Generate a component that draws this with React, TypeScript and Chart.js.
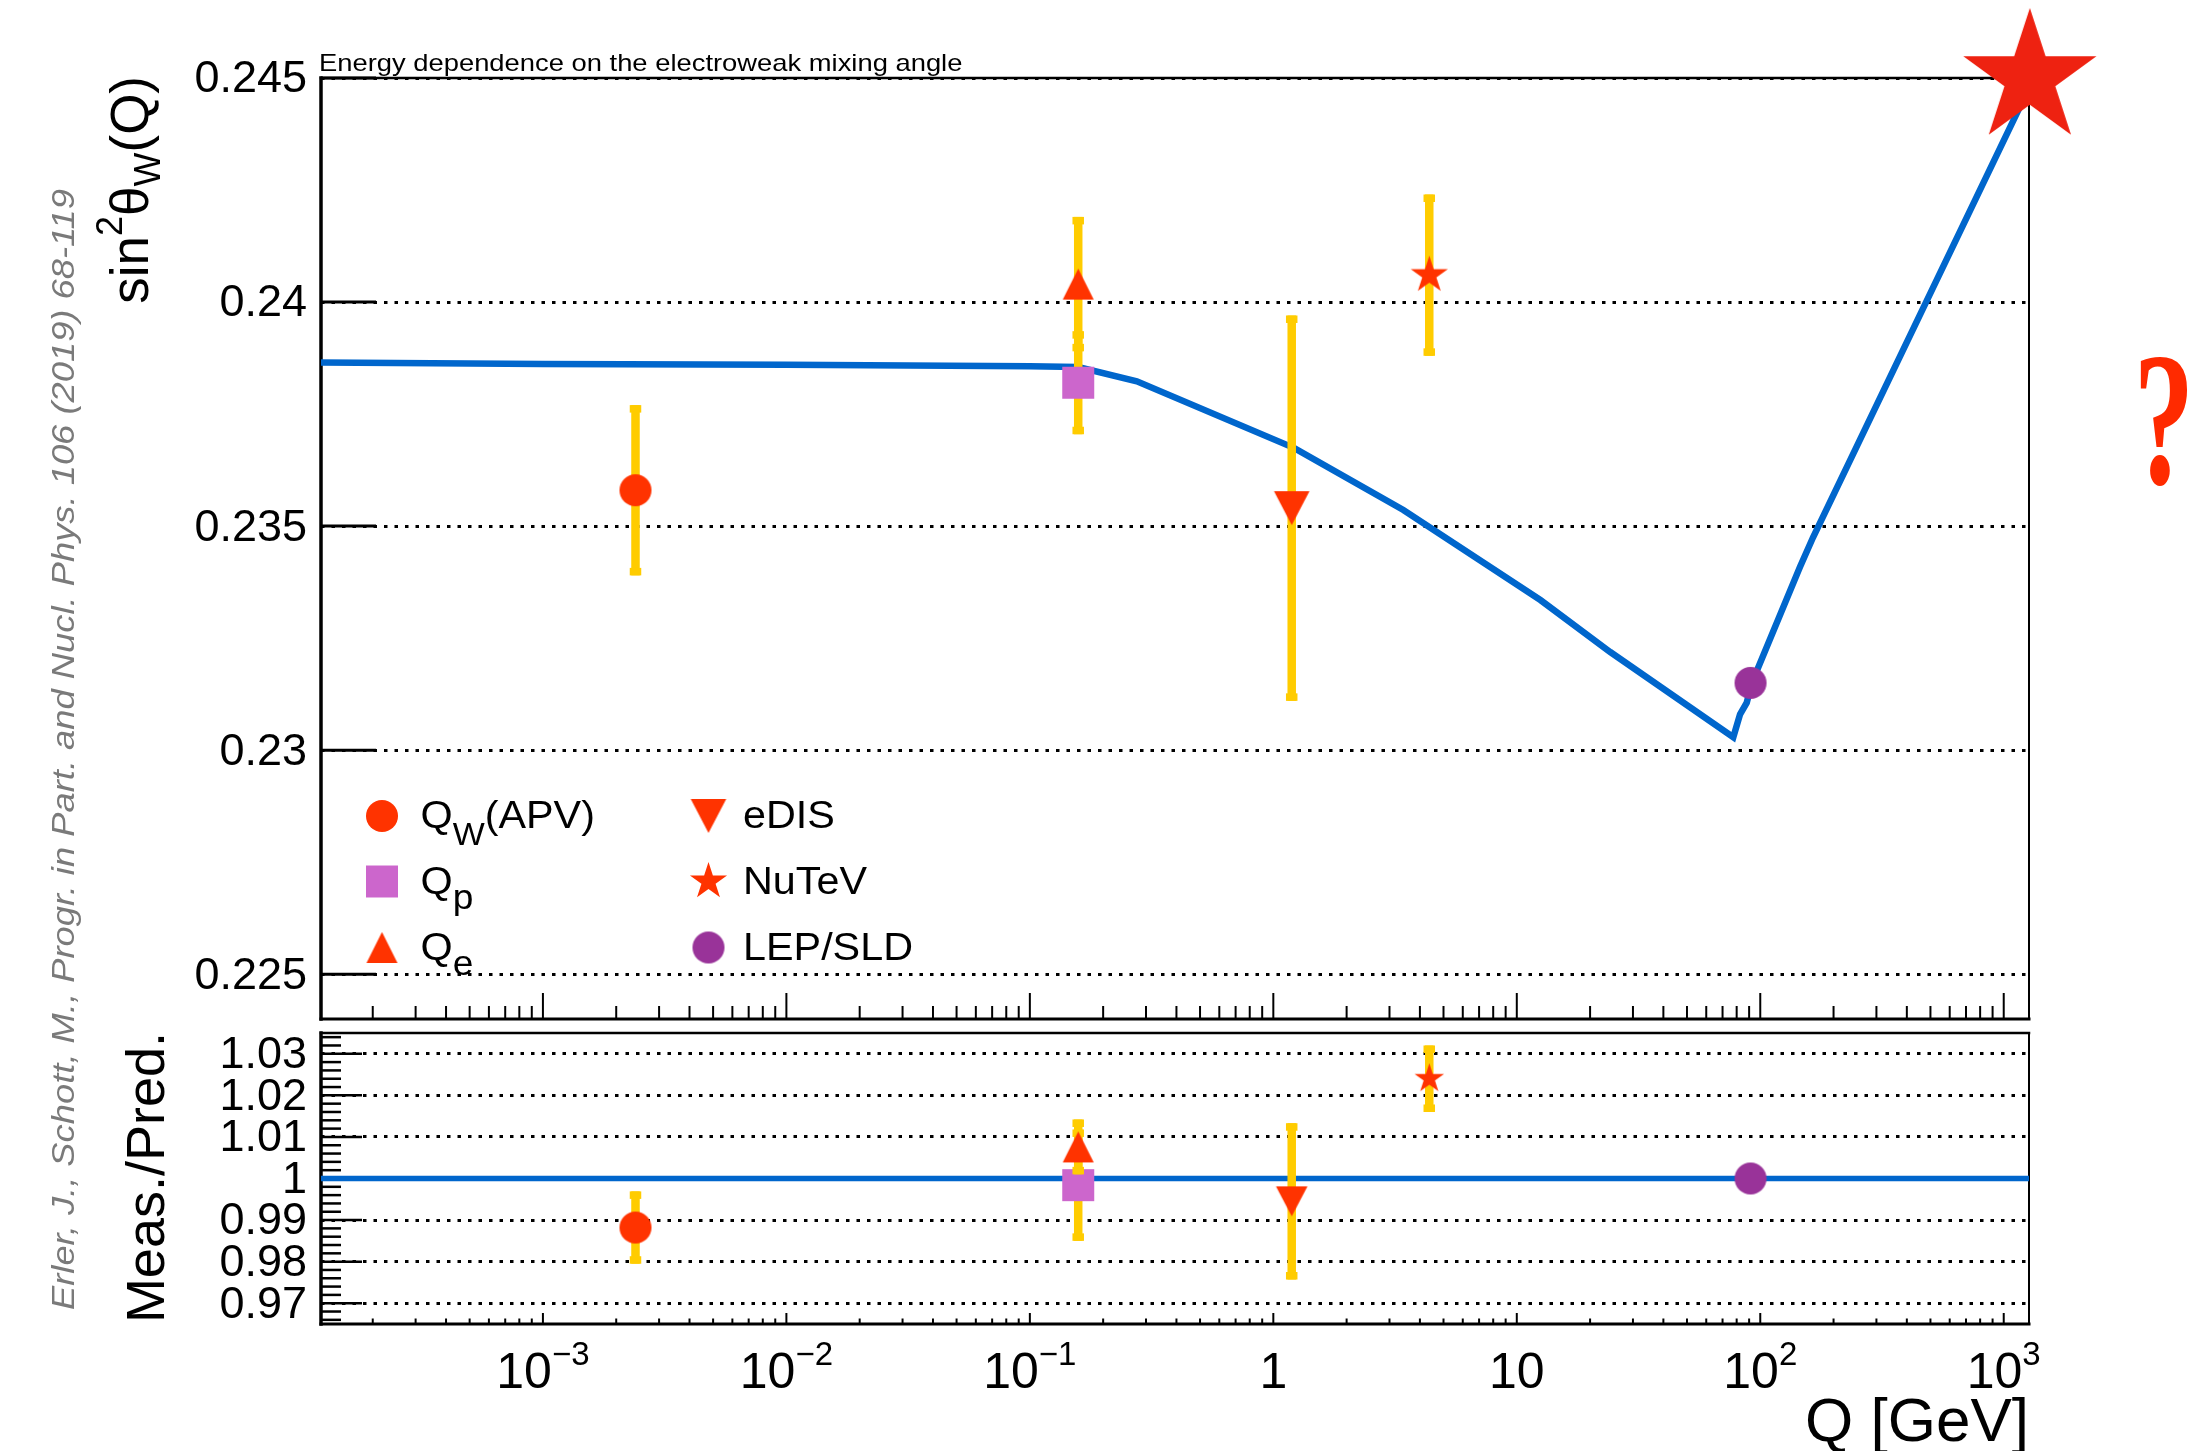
import React, { useEffect, useRef } from 'react';
import { Chart, registerables } from 'chart.js';

Chart.register(...registerables);

const FONT = '"Liberation Sans", Arial, Helvetica, sans-serif';

// ---------------- data ----------------
const X_MIN = 1.226e-4;
const X_MAX = 1270;

// running sin^2(theta_W) prediction (blue curve)
const CURVE_Q = [1.226e-4, 1e-3, 1e-2, 0.1, 0.158, 0.275, 1.22, 3.42, 12.5, 24.2, 77.5, 82.6, 88.0, 92.3, 145.7, 164.8, 1200];
const CURVE_S2W = [0.23865, 0.23862, 0.2386, 0.23857, 0.23855, 0.23823, 0.23674, 0.23536, 0.23335, 0.23219, 0.23029, 0.2308, 0.23106, 0.2315, 0.23409, 0.23475, 0.2445];

// measurements
const EXP_LABELS = ['Q_W(APV)', 'Q_p', 'Q_e', 'eDIS', 'NuTeV', 'LEP/SLD'];
const EXP_Q = [0.0024, 0.158, 0.158, 1.19, 4.37, 91.19];
const EXP_S2W = [0.2358, 0.2382, 0.2404, 0.2354, 0.2406, 0.2315];
const EXP_ERR = [0.0019, 0.00115, 0.0015, 0.0043, 0.0018, 0];

// ratio panel
const RATIO = [0.9882, 0.9984, 1.0076, 0.9945, 1.024, 1.0];
const RATIO_ERR = [0.0087, 0.0134, 0.0066, 0.0188, 0.008, 0];
const RATIO_LINE_Q = [X_MIN, X_MAX];
const RATIO_LINE = [1, 1];

// future (big star)
const FUTURE_Q = [1280];
const FUTURE_S2W = [0.245];

// ticks
const UPPER_Y_TICKS = [0.225, 0.23, 0.235, 0.24, 0.245];
const UPPER_Y_LABELS = ['0.225', '0.23', '0.235', '0.24', '0.245'];
const LOWER_Y_TICKS = [0.97, 0.98, 0.99, 1, 1.01, 1.02, 1.03];
const LOWER_Y_LABELS = ['0.97', '0.98', '0.99', '1', '1.01', '1.02', '1.03'];
const X_DECADES = [-3, -2, -1, 0, 1, 2, 3];
const X_TICK_BASE = ['10', '10', '10', '1', '10', '10', '10'];
const X_TICK_EXP = ['\u22123', '\u22122', '\u22121', '', '', '2', '3'];

const TITLE = 'Energy dependence on the electroweak mixing angle';
const CITATION = 'Erler, J., Schott, M., Progr. in Part. and Nucl. Phys. 106 (2019) 68-119';

// ---------------- layout ----------------
const W = 2197;
const H = 1451;
const LEFT = 321;
const RIGHT = 2029;
const UP_TOP = 78;
const UP_BOTTOM = 1019;
const LO_TOP = 1033;
const LO_BOTTOM = 1324;

const RED = '#ff3300';
const PINK = '#cc66cc';
const PURPLE = '#993399';
const YELLOW = '#ffcc00';
const BLUE = '#0066cc';

type Shape = 'circle' | 'square' | 'triUp' | 'triDown' | 'star';

function makeMarker(shape: Shape, color: string, w: number, h: number): HTMLCanvasElement {
  const c = document.createElement('canvas');
  const cw = Math.ceil(w) + 4;
  const ch = Math.ceil(h) + 4;
  c.width = cw;
  c.height = ch;
  const g = c.getContext('2d') as CanvasRenderingContext2D;
  const cx = cw / 2;
  const cy = ch / 2;
  g.fillStyle = color;
  g.beginPath();
  if (shape === 'circle') {
    g.ellipse(cx, cy, w / 2, h / 2, 0, 0, Math.PI * 2);
  } else if (shape === 'square') {
    g.rect(cx - w / 2, cy - h / 2, w, h);
  } else if (shape === 'triUp') {
    g.moveTo(cx, cy - h / 2);
    g.lineTo(cx + w / 2, cy + h / 2);
    g.lineTo(cx - w / 2, cy + h / 2);
    g.closePath();
  } else if (shape === 'triDown') {
    g.moveTo(cx - w / 2, cy - h / 2);
    g.lineTo(cx + w / 2, cy - h / 2);
    g.lineTo(cx, cy + h / 2);
    g.closePath();
  } else {
    const R = w / 2;
    const r = R * 0.382;
    for (let k = 0; k < 10; k++) {
      const rad = k % 2 === 0 ? R : r;
      const ang = -Math.PI / 2 + (k * Math.PI) / 5;
      const px = cx + rad * Math.cos(ang);
      const py = cy + rad * Math.sin(ang);
      if (k === 0) g.moveTo(px, py);
      else g.lineTo(px, py);
    }
    g.closePath();
  }
  g.fill();
  return c;
}

function seg(ctx: any, x1: number, y1: number, x2: number, y2: number) {
  ctx.beginPath();
  ctx.moveTo(x1, y1);
  ctx.lineTo(x2, y2);
  ctx.stroke();
}

function drawFrame(ctx: any, a: any) {
  ctx.strokeStyle = '#000';
  ctx.lineCap = 'square';
  ctx.lineWidth = 2.5;
  seg(ctx, a.left, a.top, a.right, a.top);
  ctx.lineWidth = 2;
  seg(ctx, a.right, a.top, a.right, a.bottom);
  ctx.lineWidth = 3;
  seg(ctx, a.left, a.bottom, a.right, a.bottom);
  ctx.lineWidth = 3.5;
  seg(ctx, a.left, a.top, a.left, a.bottom);
  ctx.lineCap = 'butt';
}

function drawXTicks(ctx: any, xs: any, yb: number, majorLen: number, minorLen: number) {
  ctx.strokeStyle = '#000';
  ctx.lineWidth = 2;
  for (let e = -4; e <= 3; e++) {
    for (let k = 1; k <= 9; k++) {
      const v = k * Math.pow(10, e);
      if (v < X_MIN || v > X_MAX) continue;
      const px = xs.getPixelForValue(v);
      seg(ctx, px, yb, px, yb - (k === 1 ? majorLen : minorLen));
    }
  }
}

type Seg = { t: string; font: string; dy?: number; w?: number };

function drawRich(ctx: any, segs: Seg[], x: number, y: number, stretch: number, align: string) {
  let total = 0;
  for (const s of segs) {
    ctx.font = s.font;
    s.w = ctx.measureText(s.t).width;
    total += s.w as number;
  }
  ctx.save();
  ctx.translate(x, y);
  ctx.scale(stretch, 1);
  ctx.textAlign = 'left';
  ctx.textBaseline = 'alphabetic';
  let cx = align === 'left' ? 0 : align === 'right' ? -total : -total / 2;
  for (const s of segs) {
    ctx.font = s.font;
    ctx.fillText(s.t, cx, s.dy || 0);
    cx += s.w as number;
  }
  ctx.restore();
  return total * stretch;
}

const f = (size: number, style = '') => `${style} ${size}px ${FONT}`.trim();

// error bars drawn just before each measurement dataset
const errorBarPlugin = {
  id: 'errorBars',
  beforeDatasetDraw(chart: any, args: any) {
    const ds = chart.data.datasets[args.index];
    if (!ds || !ds.data) return;
    const ctx = chart.ctx;
    const xs = chart.scales.x;
    const ys = chart.scales.y;
    ctx.save();
    ctx.fillStyle = YELLOW;
    for (const p of ds.data) {
      if (!p || !p.err) continue;
      const x = xs.getPixelForValue(p.x);
      const y1 = ys.getPixelForValue(p.y + p.err);
      const y2 = ys.getPixelForValue(p.y - p.err);
      ctx.fillRect(x - 4.25, y1, 8.5, y2 - y1);
      ctx.fillRect(x - 5.75, y1, 11.5, 7.5);
      ctx.fillRect(x - 5.75, y2 - 7.5, 11.5, 7.5);
    }
    ctx.restore();
  },
};

function measurementDatasets(ys: number[], errs: number[], markers: HTMLCanvasElement[]) {
  const list = EXP_Q.map((q, i) => ({
    label: EXP_LABELS[i],
    data: [{ x: q, y: ys[i], err: errs[i] }],
    pointStyle: markers[i],
    pointRadius: 20,
    pointHoverRadius: 20,
    showLine: false,
  }));
  return list.reverse(); // first experiment drawn first, last one on top
}

export default function App() {
  const upRef = useRef<HTMLCanvasElement>(null);
  const loRef = useRef<HTMLCanvasElement>(null);

  useEffect(() => {
    const upMarkers = [
      makeMarker('circle', RED, 32, 32),
      makeMarker('square', PINK, 32, 32),
      makeMarker('triUp', RED, 31, 31),
      makeMarker('triDown', RED, 35.5, 34),
      makeMarker('star', RED, 39, 39),
      makeMarker('circle', PURPLE, 32, 32),
    ];
    const loMarkers = [
      makeMarker('circle', RED, 32, 32),
      makeMarker('square', PINK, 32, 32),
      makeMarker('triUp', RED, 31, 31),
      makeMarker('triDown', RED, 31.5, 30),
      makeMarker('star', RED, 31, 31),
      makeMarker('circle', PURPLE, 32, 32),
    ];
    const bigStar = makeMarker('star', '#ee2211', 140, 140);

    const upperDecor = {
      id: 'upperDecor',
      beforeDatasetsDraw(chart: any) {
        const { ctx, chartArea: a, scales } = chart;
        ctx.save();
        ctx.strokeStyle = '#000';
        ctx.lineWidth = 3;
        for (const v of UPPER_Y_TICKS) {
          const py = scales.y.getPixelForValue(v);
          seg(ctx, a.left, py, a.left + 55, py);
        }
        drawXTicks(ctx, scales.x, a.bottom, 26, 13);
        drawFrame(ctx, a);
        ctx.restore();
      },
      afterDraw(chart: any) {
        const { ctx, chartArea: a } = chart;
        ctx.save();
        ctx.fillStyle = '#000';
        // title
        drawRich(ctx, [{ t: TITLE, font: f(24) }], a.left - 2, 71, 1.14, 'left');

        // y-axis title (rotated)
        ctx.save();
        ctx.translate(148, a.top - 2);
        ctx.rotate(-Math.PI / 2);
        drawRich(
          ctx,
          [
            { t: 'sin', font: f(53) },
            { t: '2', font: f(36), dy: -26 },
            { t: '\u03b8', font: f(53) },
            { t: 'W', font: f(36), dy: 12 },
            { t: '(Q)', font: f(53) },
          ],
          0,
          0,
          1,
          'right'
        );
        ctx.restore();

        // legend
        const rowsY = [816, 881.5, 947.5];
        const colMarkX = [382, 708.5];
        const colTextX = [420.5, 743];
        const legendText: Seg[][] = [
          [{ t: 'Q', font: f(39) }, { t: 'W', font: f(32), dy: 17 }, { t: '(APV)', font: f(39) }],
          [{ t: 'Q', font: f(39) }, { t: 'p', font: f(35), dy: 15 }],
          [{ t: 'Q', font: f(39) }, { t: 'e', font: f(35), dy: 15 }],
          [{ t: 'eDIS', font: f(39) }],
          [{ t: 'NuTeV', font: f(39) }],
          [{ t: 'LEP/SLD', font: f(39) }],
        ];
        for (let i = 0; i < 6; i++) {
          const col = i < 3 ? 0 : 1;
          const row = i % 3;
          const m = upMarkers[i];
          ctx.drawImage(m, colMarkX[col] - m.width / 2, rowsY[row] - m.height / 2);
          ctx.fillStyle = '#000';
          drawRich(ctx, legendText[i], colTextX[col], rowsY[row] + 12, 1.06, 'left');
        }

        // citation (rotated, grey italic)
        ctx.save();
        ctx.translate(74, 1310);
        ctx.rotate(-Math.PI / 2);
        ctx.font = f(31, 'italic');
        const cw = ctx.measureText(CITATION).width;
        ctx.fillStyle = '#7a7a7a';
        drawRich(ctx, [{ t: CITATION, font: f(31, 'italic') }], 0, 0, 1121 / cw, 'left');
        ctx.restore();

        // red question mark
        ctx.save();
        ctx.translate(2164, 483);
        ctx.scale(0.64, 1);
        ctx.fillStyle = '#ff2a00';
        ctx.font = `bold 190px "Liberation Serif", "Times New Roman", serif`;
        ctx.textAlign = 'center';
        ctx.textBaseline = 'alphabetic';
        ctx.fillText('?', 0, 0);
        ctx.restore();

        ctx.restore();
      },
    };

    const lowerDecor = {
      id: 'lowerDecor',
      beforeDatasetsDraw(chart: any) {
        const { ctx, chartArea: a, scales } = chart;
        ctx.save();
        ctx.strokeStyle = '#000';
        ctx.lineWidth = 2.5;
        for (let k = 483; k <= 517; k++) {
          const v = k * 0.002;
          const py = scales.y.getPixelForValue(v);
          const major = k % 5 === 0;
          seg(ctx, a.left, py, a.left + (major ? 41 : 20), py);
        }
        drawXTicks(ctx, scales.x, a.bottom, 11, 5.5);
        drawFrame(ctx, a);
        ctx.restore();
      },
      afterDraw(chart: any) {
        const { ctx, chartArea: a, scales } = chart;
        ctx.save();
        ctx.fillStyle = '#000';
        // x tick labels
        for (let i = 0; i < X_DECADES.length; i++) {
          const px = scales.x.getPixelForValue(Math.pow(10, X_DECADES[i]));
          const segs: Seg[] = [{ t: X_TICK_BASE[i], font: f(50) }];
          if (X_TICK_EXP[i]) segs.push({ t: X_TICK_EXP[i], font: f(33), dy: -23 });
          drawRich(ctx, segs, px, 1388, 1, 'center');
        }
        // y title
        ctx.save();
        ctx.translate(164, a.top - 1);
        ctx.rotate(-Math.PI / 2);
        drawRich(ctx, [{ t: 'Meas./Pred.', font: f(54) }], 0, 0, 1, 'right');
        ctx.restore();
        // x title
        drawRich(ctx, [{ t: 'Q [GeV]', font: f(62) }], a.right, 1441, 1, 'right');
        ctx.restore();
      },
    };

    const commonX = { type: 'logarithmic', min: X_MIN, max: X_MAX, display: false };

    const yTickFont = { family: FONT, size: 45 };

    const up = new Chart(upRef.current as HTMLCanvasElement, {
      type: 'scatter',
      data: {
        datasets: [
          {
            label: 'future',
            data: FUTURE_Q.map((q, i) => ({ x: q, y: FUTURE_S2W[i] })),
            pointStyle: bigStar as any,
            pointRadius: 74,
            pointHoverRadius: 74,
            clip: false,
            showLine: false,
          },
          ...measurementDatasets(EXP_S2W, EXP_ERR, upMarkers),
          {
            label: 'prediction',
            data: CURVE_Q.map((q, i) => ({ x: q, y: CURVE_S2W[i] })),
            showLine: true,
            borderColor: BLUE,
            borderWidth: 6.5,
            pointRadius: 0,
            pointHoverRadius: 0,
            tension: 0,
            fill: false,
          },
        ] as any,
      },
      options: {
        animation: false,
        responsive: false,
        maintainAspectRatio: false,
        events: [],
        layout: { padding: { left: 0, top: UP_TOP, right: W - RIGHT, bottom: H - UP_BOTTOM } },
        plugins: { legend: { display: false }, tooltip: { enabled: false }, title: { display: false } },
        scales: {
          x: commonX as any,
          y: {
            type: 'linear',
            min: 0.224,
            max: 0.245,
            afterBuildTicks: (s: any) => {
              s.ticks = UPPER_Y_TICKS.map((v) => ({ value: v }));
            },
            afterFit: (s: any) => {
              s.width = LEFT;
            },
            ticks: {
              autoSkip: false,
              padding: 14,
              labelOffset: 2,
              color: '#000',
              font: yTickFont,
              callback: (v: any) => UPPER_Y_LABELS[UPPER_Y_TICKS.indexOf(Number(v))],
            },
            grid: { color: '#000', lineWidth: 3, drawTicks: false },
            border: { display: false, dash: [3.5, 7] },
          } as any,
        },
      },
      plugins: [errorBarPlugin, upperDecor] as any,
    } as any);

    const lo = new Chart(loRef.current as HTMLCanvasElement, {
      type: 'scatter',
      data: {
        datasets: [
          ...measurementDatasets(RATIO, RATIO_ERR, loMarkers),
          {
            label: 'unity',
            data: RATIO_LINE_Q.map((q, i) => ({ x: q, y: RATIO_LINE[i] })),
            showLine: true,
            borderColor: BLUE,
            borderWidth: 5.5,
            pointRadius: 0,
            pointHoverRadius: 0,
            fill: false,
          },
        ] as any,
      },
      options: {
        animation: false,
        responsive: false,
        maintainAspectRatio: false,
        events: [],
        layout: { padding: { left: 0, top: LO_TOP, right: W - RIGHT, bottom: H - LO_BOTTOM } },
        plugins: { legend: { display: false }, tooltip: { enabled: false }, title: { display: false } },
        scales: {
          x: commonX as any,
          y: {
            type: 'linear',
            min: 0.965,
            max: 1.035,
            afterBuildTicks: (s: any) => {
              s.ticks = LOWER_Y_TICKS.map((v) => ({ value: v }));
            },
            afterFit: (s: any) => {
              s.width = LEFT;
            },
            ticks: {
              autoSkip: false,
              padding: 14,
              labelOffset: 2,
              color: '#000',
              font: yTickFont,
              callback: (v: any) => LOWER_Y_LABELS[LOWER_Y_TICKS.indexOf(Number(v))],
            },
            grid: { color: '#000', lineWidth: 3, drawTicks: false },
            border: { display: false, dash: [3.5, 7] },
          } as any,
        },
      },
      plugins: [errorBarPlugin, lowerDecor] as any,
    } as any);

    return () => {
      up.destroy();
      lo.destroy();
    };
  }, []);

  const cs: React.CSSProperties = { position: 'absolute', left: 0, top: 0, width: W, height: H, display: 'block' };
  return (
    <div style={{ position: 'absolute', left: 0, top: 0, width: W, height: H, background: '#fff', overflow: 'hidden' }}>
      <canvas ref={upRef} width={W} height={H} style={cs} />
      <canvas ref={loRef} width={W} height={H} style={cs} />
    </div>
  );
}
